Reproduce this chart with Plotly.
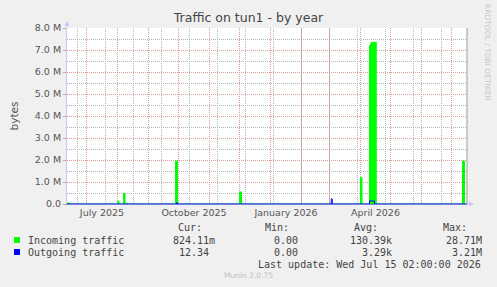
import datetime as dt
import plotly.graph_objects as go

# ---------------- data ----------------
x_start = "2025-06-11 12:00"
x_end = "2026-07-16 12:00"

in_dates = ["2025-06-11 12:00", "2025-06-12", "2025-06-14", "2025-08-01", "2025-08-02 12:00",
            "2025-08-07", "2025-08-08 12:00", "2025-08-10", "2025-08-11", "2025-09-28",
            "2025-09-30", "2025-12-01", "2025-12-03", "2026-04-01", "2026-04-02 12:00",
            "2026-04-10", "2026-04-11", "2026-04-12", "2026-04-16 18:00", "2026-07-12",
            "2026-07-14", "2026-07-16 12:00"]
in_values = [0, 0.05e6, 0, 0.12e6, 0,
             0.48e6, 0, 0.04e6, 0, 1.95e6,
             0, 0.55e6, 0, 1.2e6, 0,
             7.2e6, 7.3e6, 7.35e6, 0, 1.95e6,
             0, 0]

out_dates = ["2025-06-11 12:00", "2025-09-29", "2025-09-30", "2026-03-02 18:00", "2026-03-03 18:00",
             "2026-04-10", "2026-04-15", "2026-07-16 12:00"]
out_values = [0, 0.05e6, 0, 0.23e6, 0,
              0.14e6, 0, 0]

ytick_vals = [0, 1e6, 2e6, 3e6, 4e6, 5e6, 6e6, 7e6, 8e6]
ytick_text = ["0.0", "1.0 M", "2.0 M", "3.0 M", "4.0 M", "5.0 M", "6.0 M", "7.0 M", "8.0 M"]
xtick_vals = ["2025-07-16 12:00", "2025-10-16 12:00", "2026-01-16 12:00", "2026-04-16"]
xtick_text = ["July 2025", "October 2025", "January 2026", "April 2026"]

legend_names = ["Incoming traffic", "Outgoing traffic"]
legend_colors = ["#00FF00", "#0000FF"]
stat_headers = ["Cur:", "Min:", "Avg:", "Max:"]
stats_in = ["824.11m", "0.00", "130.39k", "28.71M"]
stats_out = ["12.34", "0.00", "3.29k", "3.21M"]
last_update = "Last update: Wed Jul 15 02:00:00 2026"

# ---------------- figure ----------------
W, H = 497, 287
L, R, T, B = 67, 30, 28, 83
pw, ph = W - L - R, H - T - B
y_max = 8e6

def px(x):
    return (x - L) / pw

def py(y):
    return (H - B - y) / ph

fig = go.Figure()
fig.add_trace(go.Scatter(x=in_dates, y=in_values, mode="lines", line_shape="hv",
                         fill="tozeroy", fillcolor=legend_colors[0],
                         line=dict(color=legend_colors[0], width=1), name=legend_names[0],
                         hoverinfo="skip"))
fig.add_trace(go.Scatter(x=out_dates, y=out_values, mode="lines", line_shape="hv",
                         line=dict(color=legend_colors[1], width=1), name=legend_names[1],
                         hoverinfo="skip"))

red_grid = "#E09A9A"
grey_grid = "#B4B4B4"
dots = "1px,1px"
font = "DejaVu Sans"
mono = "DejaVu Sans Mono"

# minor (grey) grid lines: every 0.5 M between the red lines, and every 4 weeks in time
half_px = 0.5 * y_max / ph   # keep the 1px dotted lines on a pixel row
grey_y = [(k + 0.5) * 1e6 - half_px for k in range(8)]
g0 = dt.datetime(2025, 6, 22)
grey_x = []
while g0 < dt.datetime(2026, 7, 16):
    grey_x.append(g0)
    g0 += dt.timedelta(days=28)
for gy in grey_y:
    fig.add_shape(type="line", xref="paper", yref="y", x0=0, x1=1, y0=gy, y1=gy,
                  line=dict(color=grey_grid, width=1, dash=dots), layer="below")
for gx in grey_x:
    fig.add_shape(type="line", xref="x", yref="paper", x0=gx, x1=gx, y0=0, y1=1,
                  line=dict(color=grey_grid, width=1, dash=dots), layer="below")

fig.update_layout(
    width=W, height=H, margin=dict(l=L, r=R, t=T, b=B, pad=0),
    paper_bgcolor="#F0F0F0", plot_bgcolor="#FFFFFF", showlegend=False,
    title=dict(text="Traffic on tun1 - by year", x=0.5, xanchor="center",
               y=1 - 18 / H, yanchor="middle", yref="container",
               font=dict(family=font, size=12.5, color="#444444")),
    xaxis=dict(type="date", range=[x_start, x_end], tickvals=xtick_vals, ticktext=xtick_text,
               showgrid=False, ticks="", zeroline=False,
               tickfont=dict(family=font, size=9.5, color="#555555"),
               showline=True, linecolor="#7777EE", linewidth=1,
               minor=dict(tick0="2025-07-01", dtick="M1", showgrid=True,
                          gridcolor=red_grid, griddash=dots, gridwidth=1, ticks="")),
    yaxis=dict(range=[0, y_max], tickvals=ytick_vals, ticktext=ytick_text,
               showgrid=True, gridcolor=red_grid, griddash=dots, gridwidth=1,
               ticks="outside", ticklen=3, tickcolor=red_grid, zeroline=False,
               tickfont=dict(family=font, size=9.5, color="#555555"),
               showline=True, linecolor="#C8C8F8", linewidth=1, mirror=False,
               title=dict(text="bytes", font=dict(family=font, size=10.5, color="#555555"),
                          standoff=14)),
)

# right-hand frame line
fig.add_shape(type="line", xref="paper", yref="paper", x0=1, x1=1, y0=0, y1=1,
              line=dict(color="#999999", width=1))

ann = []
# axis arrows
ann.append(dict(x=0, y=py(21), xref="paper", yref="paper", ax=0, ay=8, text="",
                showarrow=True, arrowhead=2, arrowsize=1, arrowwidth=1, arrowcolor="#C8C8F8"))
ann.append(dict(x=px(474), y=0, xref="paper", yref="paper", ax=-8, ay=0, text="",
                showarrow=True, arrowhead=2, arrowsize=1, arrowwidth=1, arrowcolor="#C8C8F8"))

# rrdtool watermark
ann.append(dict(x=px(488), y=py(52), xref="paper", yref="paper", text="RRDTOOL / TOBI OETIKER",
                showarrow=False, textangle=90, xanchor="center", yanchor="middle",
                font=dict(family=font, size=7.5, color="#C8C8C8")))

txt = dict(family=mono, size=10, color="#444444")
header_right = [204, 291, 380, 469]
col_right = [217, 299.5, 394, 483.5]
out_right = [211, 299.5, 394, 483.5]
for h, xr in zip(stat_headers, header_right):
    ann.append(dict(x=px(xr), y=py(227.5), xref="paper", yref="paper", text=h, showarrow=False,
                    xanchor="right", yanchor="middle", font=txt))
rows_y = [240, 252]
for i, (name, stats, rights) in enumerate([(legend_names[0], stats_in, col_right),
                                            (legend_names[1], stats_out, out_right)]):
    ann.append(dict(x=px(26), y=py(rows_y[i]), xref="paper", yref="paper", text=name,
                    showarrow=False, xanchor="left", yanchor="middle", font=txt))
    for s, xr in zip(stats, rights):
        ann.append(dict(x=px(xr), y=py(rows_y[i]), xref="paper", yref="paper", text=s,
                        showarrow=False, xanchor="right", yanchor="middle", font=txt))
    fig.add_shape(type="rect", xref="paper", yref="paper",
                  x0=px(14), x1=px(20), y0=py(rows_y[i] - 3), y1=py(rows_y[i] + 3),
                  fillcolor=legend_colors[i], line=dict(width=0))
ann.append(dict(x=px(482.5), y=py(264), xref="paper", yref="paper", text=last_update,
                showarrow=False, xanchor="right", yanchor="middle", font=txt))
ann.append(dict(x=px(248), y=py(275.5), xref="paper", yref="paper", text="Munin 2.0.75",
                showarrow=False, xanchor="center", yanchor="middle",
                font=dict(family=font, size=7.5, color="#C0C0C0")))
fig.update_layout(annotations=ann)

fig.write_html("out.html", config={"displayModeBar": False})
